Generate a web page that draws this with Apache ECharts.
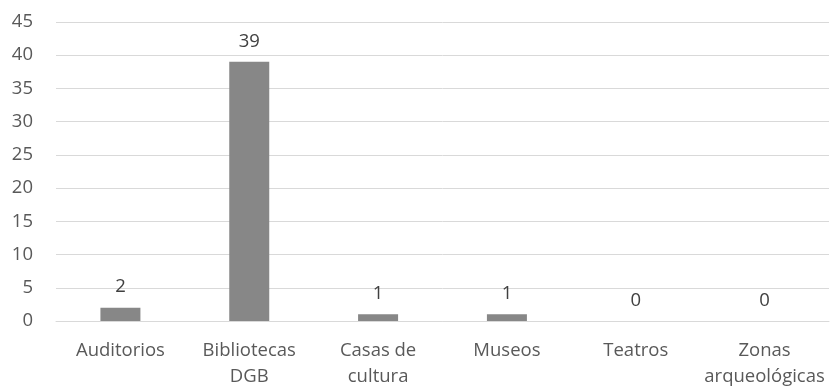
<!DOCTYPE html>
<html><head><meta charset="utf-8">
<script src="https://cdn.jsdelivr.net/npm/echarts@6/dist/echarts.min.js"></script>
<style>html,body{margin:0;padding:0;background:#fff}#c{width:830px;height:386px}</style>
</head><body><div id="c"></div>
<script>
const categories = ['Auditorios', 'Bibliotecas\nDGB', 'Casas de\ncultura', 'Museos', 'Teatros', 'Zonas\narqueológicas'];
const values = [2, 39, 1, 1, 0, 0];
const yTicks = [0, 5, 10, 15, 20, 25, 30, 35, 40, 45];
const font = 'Open Sans';
const chart = echarts.init(document.getElementById('c'), null, {renderer: 'canvas'});
chart.setOption({
  animation: false,
  grid: {left: 56, right: 1, top: 22, bottom: 65, containLabel: false, outerBoundsMode: 'none'},
  xAxis: {
    type: 'category', data: categories,
    axisLine: {show: true, lineStyle: {color: '#d9d9d9', width: 1}},
    axisTick: {show: false},
    axisLabel: {color: '#595959', fontSize: 18.5, fontFamily: font, margin: 17, lineHeight: 26, interval: 0}
  },
  yAxis: {
    type: 'value', min: yTicks[0], max: yTicks[yTicks.length - 1], interval: 5,
    axisLine: {show: false}, axisTick: {show: false},
    splitLine: {lineStyle: {color: '#d9d9d9', width: 1}},
    axisLabel: {color: '#595959', fontSize: 18.5, fontFamily: font, margin: 23}
  },
  series: [{
    type: 'bar', data: values, barWidth: 40,
    itemStyle: {color: '#878787'},
    label: {show: true, position: 'top', distance: 11, color: '#404040', fontSize: 18.5, fontFamily: font}
  }]
});
</script></body></html>
